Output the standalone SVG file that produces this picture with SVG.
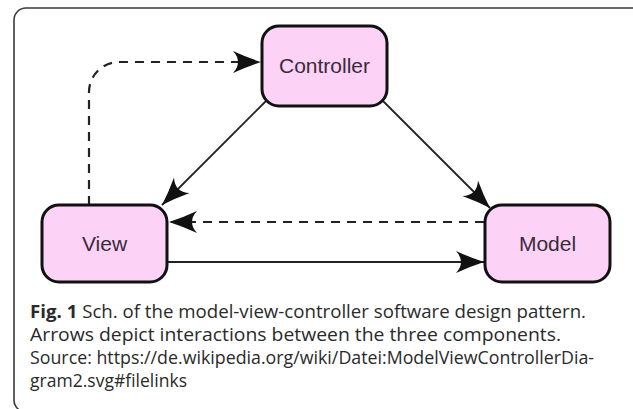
<svg xmlns="http://www.w3.org/2000/svg" width="633" height="409" viewBox="0 0 633 409">
  <style>
    .frame { fill: none; stroke: #3a3a3a; stroke-width: 1.6; }
    .node rect { fill: #fcd3f7; stroke: #111; stroke-width: 3; }
    .node text { font-family: "Liberation Sans", Arial, sans-serif; font-size: 21px; fill: #3a2b3a; text-anchor: middle; }
    .solid { fill: none; stroke: #222; stroke-width: 1.8; marker-end: url(#head); }
    .dashed { fill: none; stroke: #222; stroke-width: 2.2; stroke-dasharray: 9 7; marker-end: url(#head); }
    .caption { font-family: "Open Sans", "Noto Sans", sans-serif; font-size: 18px; fill: #2a2a2a; }
    .caption .bold { font-weight: bold; }
  </style>
  <defs>
    <marker id="head" markerUnits="userSpaceOnUse" markerWidth="34" markerHeight="26" viewBox="-30 -13 32 26" refX="0" refY="0" orient="auto" overflow="visible">
      <path d="M0,0 Q-14,-4.5 -28,-11 Q-18,0 -28,11 Q-14,4.5 0,0 Z" fill="#111"/>
    </marker>
  </defs>

  <!-- figure frame -->
  <rect class="frame" x="14" y="8" width="640" height="404" rx="12"/>

  <!-- connectors -->
  <g id="connectors">
    <path class="solid" d="M266,101 L162,205"/>
    <path class="solid" d="M383,101 L490,208"/>
    <path class="solid" d="M167,262 L484,262"/>
    <path class="dashed" d="M484,222 L169,222"/>
    <path class="dashed" d="M89,205 L89,92 A30,30 0 0 1 119,62 L261,62"/>
  </g>

  <!-- nodes -->
  <g id="controller" class="node">
    <rect x="262" y="26" width="125" height="80" rx="17"/>
    <text x="324.5" y="73">Controller</text>
  </g>
  <g id="view" class="node">
    <rect x="42" y="205" width="125" height="77" rx="17"/>
    <text x="104.5" y="251">View</text>
  </g>
  <g id="model" class="node">
    <rect x="485" y="205" width="125" height="77" rx="17"/>
    <text x="547.5" y="251">Model</text>
  </g>

  <!-- caption -->
  <g id="caption" class="caption">
    <text x="30" y="318" textLength="556" lengthAdjust="spacingAndGlyphs"><tspan class="bold">Fig. 1</tspan> Sch. of the model-view-controller software design pattern.</text>
    <text x="30" y="341" textLength="531" lengthAdjust="spacingAndGlyphs">Arrows depict interactions between the three components.</text>
    <text x="30" y="364" textLength="564" lengthAdjust="spacingAndGlyphs">Source: https://de.wikipedia.org/wiki/Datei:ModelViewControllerDia-</text>
    <text x="30" y="387" textLength="157" lengthAdjust="spacingAndGlyphs">gram2.svg#filelinks</text>
  </g>
</svg>
